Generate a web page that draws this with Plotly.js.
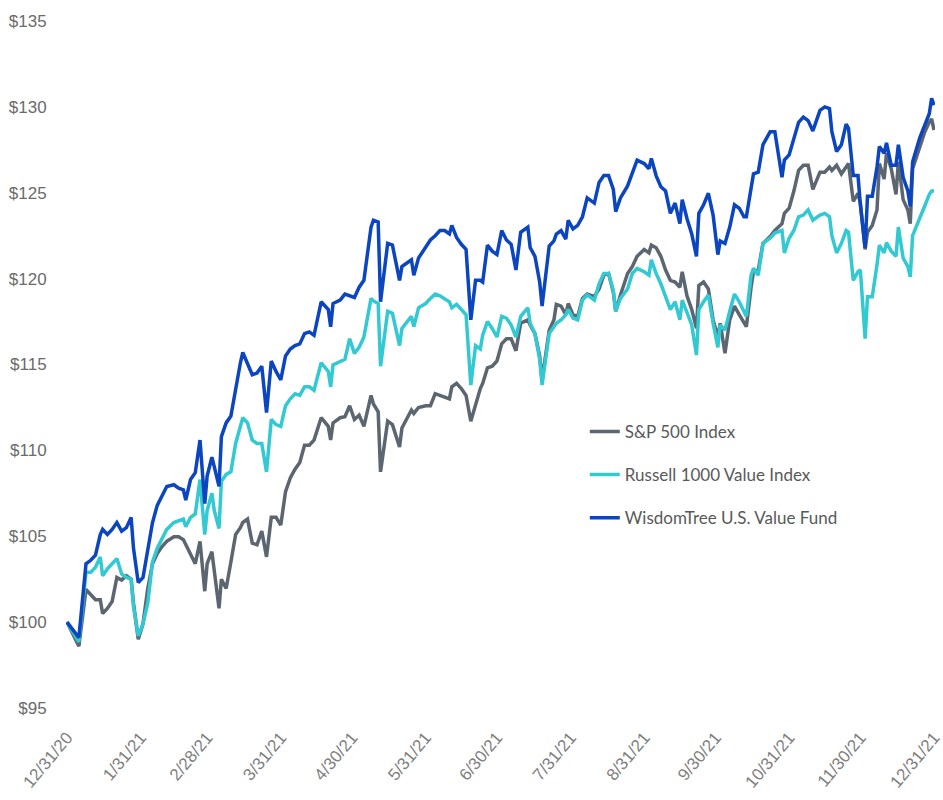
<!DOCTYPE html>
<html>
<head>
<meta charset="utf-8">
<script src="https://cdn.plot.ly/plotly-3.0.1.min.js"></script>
<style>html,body{margin:0;padding:0;background:#fff;}#chart{width:943px;height:800px;}</style>
</head>
<body>
<div id="chart"></div>
<script>
var seriesNames = ["S&P 500 Index", "Russell 1000 Value Index", "WisdomTree U.S. Value Fund"];
var seriesColors = ["#5c6670", "#33c9d3", "#0b45c0"];

var dates = ["2020-12-31","2021-01-05","2021-01-08","2021-01-10","2021-01-12","2021-01-14","2021-01-15","2021-01-17","2021-01-19","2021-01-21",
"2021-01-23","2021-01-25","2021-01-27","2021-01-28","2021-01-30","2021-02-01","2021-02-03","2021-02-05","2021-02-07","2021-02-09",
"2021-02-11","2021-02-14","2021-02-16","2021-02-18","2021-02-19","2021-02-21","2021-02-23","2021-02-25","2021-02-27","2021-02-28",
"2021-03-02","2021-03-03","2021-03-05","2021-03-06","2021-03-08","2021-03-10","2021-03-12","2021-03-14","2021-03-15","2021-03-17",
"2021-03-19","2021-03-21","2021-03-23","2021-03-25","2021-03-27","2021-03-29","2021-03-31","2021-04-02","2021-04-04","2021-04-06",
"2021-04-08","2021-04-10","2021-04-12","2021-04-14","2021-04-17","2021-04-20","2021-04-21","2021-04-22","2021-04-25","2021-04-27",
"2021-04-29","2021-05-01","2021-05-03","2021-05-05","2021-05-08","2021-05-09","2021-05-11","2021-05-12","2021-05-15","2021-05-17",
"2021-05-20","2021-05-21","2021-05-25","2021-05-26","2021-05-28","2021-05-31","2021-06-02","2021-06-04","2021-06-06","2021-06-08",
"2021-06-10","2021-06-11","2021-06-13","2021-06-15","2021-06-17","2021-06-19","2021-06-21","2021-06-23","2021-06-24","2021-06-26",
"2021-06-28","2021-06-30","2021-07-02","2021-07-04","2021-07-06","2021-07-08","2021-07-10","2021-07-13","2021-07-14","2021-07-16",
"2021-07-18","2021-07-19","2021-07-22","2021-07-24","2021-07-25","2021-07-27","2021-07-29","2021-07-30","2021-08-01","2021-08-03",
"2021-08-05","2021-08-07","2021-08-10","2021-08-12","2021-08-14","2021-08-16","2021-08-18","2021-08-19","2021-08-21","2021-08-24",
"2021-08-26","2021-08-28","2021-08-31","2021-09-02","2021-09-03","2021-09-05","2021-09-07","2021-09-09","2021-09-11","2021-09-13",
"2021-09-15","2021-09-16","2021-09-18","2021-09-20","2021-09-22","2021-09-23","2021-09-25","2021-09-27","2021-09-29","2021-10-01",
"2021-10-02","2021-10-04","2021-10-06","2021-10-08","2021-10-10","2021-10-12","2021-10-13","2021-10-15","2021-10-16","2021-10-18",
"2021-10-20","2021-10-23","2021-10-25","2021-10-28","2021-10-29","2021-10-31","2021-11-02","2021-11-04","2021-11-06","2021-11-08",
"2021-11-10","2021-11-13","2021-11-15","2021-11-17","2021-11-18","2021-11-20","2021-11-22","2021-11-24","2021-11-25","2021-11-27",
"2021-11-29","2021-11-30","2021-12-02","2021-12-03","2021-12-05","2021-12-07","2021-12-08","2021-12-10","2021-12-11","2021-12-13",
"2021-12-15","2021-12-16","2021-12-18","2021-12-20","2021-12-21","2021-12-22","2021-12-25","2021-12-27","2021-12-29","2021-12-30",
"2021-12-31"];

var sp500 = [100,98.6,101.9,101.6,101.3,101.3,100.5,100.8,101.2,102.6,
102.45,102.7,102.5,101.1,99.0,99.9,101.96,103.4,104.0,104.4,
104.7,104.97,104.97,104.8,104.5,103.9,103.4,104.7,101.8,103.4,
104.1,103.0,100.8,102.5,101.96,103.5,105.1,105.5,105.8,106.0,
104.6,104.5,105.3,103.8,106.1,106.1,105.65,107.6,108.4,108.9,
109.3,110.3,110.3,110.6,111.9,111.4,110.6,111.6,111.9,111.96,
112.6,111.8,112.05,111.4,113.2,112.7,112.25,108.75,111.7,111.5,
110.2,111.3,112.35,112.15,112.5,112.6,112.6,113.3,113.2,113.1,
113.0,113.7,113.9,113.6,113.2,111.7,112.7,113.6,113.9,114.8,
114.9,115.2,116.2,116.5,116.5,115.8,117.4,117.6,117.3,116.8,
115.5,114.1,117.0,117.6,118.5,118.4,117.9,118.55,117.9,117.8,
118.85,119.1,118.95,119.4,120.2,120.3,119.2,118.1,119.05,120.3,
120.7,121.3,121.7,121.5,121.95,121.8,121.3,120.5,119.9,119.8,
119.5,120.4,119.0,118.2,117.1,119.6,119.8,119.4,117.6,116.6,
117.4,115.65,117.6,118.4,117.9,117.4,117.2,119.5,120.4,120.5,
122.05,122.45,122.8,123.2,123.8,124.1,125.1,126.3,126.6,126.6,
125.2,126.2,126.2,126.5,126.3,126.6,126.1,126.5,126.7,124.5,
124.97,124.4,121.7,122.7,123.1,124.0,126.7,125.8,127.3,126.4,
124.9,126.8,124.6,124.0,123.2,126.4,127.7,128.5,129.1,129.3,
128.65];

var russellValue = [100,98.85,102.9,102.9,103.2,103.8,102.7,103.1,103.4,103.7,
102.8,102.6,102.5,100.9,99.2,99.9,101.1,103.5,104.3,104.9,
105.4,105.8,105.9,106.0,105.55,106.1,106.3,108.3,105.1,106.5,
107.5,106.5,105.45,108.2,108.6,108.75,110.4,111.4,111.9,111.6,
110.6,110.4,110.4,108.75,111.8,111.5,111.4,112.6,113.0,113.3,
113.2,113.7,113.7,113.5,115.1,114.6,113.7,114.97,115.2,115.3,
116.5,115.65,116.0,116.6,118.85,118.7,118.55,114.9,118.1,117.98,
116.1,117.1,117.8,117.2,118.3,118.55,118.85,119.1,119.0,118.8,
118.65,118.3,118.5,118.2,117.9,113.8,116.1,115.9,116.7,117.5,
117.1,116.6,117.8,117.7,117.3,116.6,117.8,118.3,117.4,116.8,
115.3,113.8,116.8,117.2,117.4,117.6,117.9,118.2,117.7,117.6,
118.75,119.05,118.75,119.7,120.3,120.3,119.3,118.1,118.85,119.4,
120.3,120.6,120.4,120.2,121.1,120.3,119.7,118.95,118.2,118.65,
117.6,118.75,117.98,117.3,115.55,118.2,118.65,119.05,117.4,116.0,
117.3,117.0,118.1,119.1,118.65,118.1,117.8,120.2,120.6,120.2,
122.05,122.35,122.65,122.8,121.5,122.35,122.8,123.6,123.7,124.0,
123.4,123.7,123.8,123.6,122.5,121.5,122.05,122.8,122.7,119.9,
120.4,120.5,116.5,118.95,118.95,120.8,121.95,121.5,122.1,121.6,
121.3,123.0,121.2,120.7,120.1,122.5,123.6,124.2,124.9,125.1,
125.1];

var wisdomTreeValue = [100,99.1,103.4,103.6,103.9,105.1,105.4,105.1,105.4,105.8,
105.3,105.5,106.1,104.3,102.3,102.6,104.2,105.8,106.8,107.4,
107.9,108.0,107.8,107.7,107.1,108.3,108.7,110.6,106.9,108.5,
109.6,109.05,107.9,110.8,111.6,112.0,113.6,115.1,115.7,115.0,
114.4,114.5,114.9,112.2,115.2,114.6,114.1,115.5,115.9,116.1,
116.2,116.8,116.9,116.7,118.65,118.2,117.2,118.55,118.75,119.1,
119.0,118.9,119.5,119.9,123.0,123.4,123.3,118.65,122.05,121.95,
119.9,120.7,121.1,120.2,121.2,121.8,122.25,122.5,122.8,122.8,
122.6,123.1,122.4,122.0,121.7,117.6,119.9,119.9,119.8,121.95,
121.6,121.4,122.8,122.25,122.0,120.5,122.7,123.0,121.8,121.3,
119.8,118.4,121.9,122.2,122.6,122.8,122.3,123.4,122.9,123.1,
123.6,124.7,124.4,125.6,126.0,126.0,125.2,123.9,124.7,125.4,
126.2,126.9,126.7,126.4,127.0,126.0,125.35,125.1,123.8,124.4,
123.2,124.6,123.5,122.6,121.3,123.8,124.3,124.97,123.7,121.4,
122.2,122.05,123.0,124.3,124.1,123.6,123.6,125.5,126.1,126.2,
127.8,128.55,128.55,125.9,126.9,127.2,128.2,129.1,129.4,129.2,
128.6,129.8,130.0,129.9,128.55,127.4,127.8,129.0,128.75,126.0,
126.0,124.3,121.8,124.8,124.8,126.5,127.7,127.3,127.9,126.6,
126.6,127.8,125.9,125.1,124.2,126.8,128.2,128.85,129.6,130.5,
130.1];

var tickDates = ["2020-12-31","2021-01-31","2021-02-28","2021-03-31","2021-04-30","2021-05-31","2021-06-30","2021-07-31","2021-08-31","2021-09-30","2021-10-31","2021-11-30","2021-12-31"];
var tickLabels = ["12/31/20","1/31/21","2/28/21","3/31/21","4/30/21","5/31/21","6/30/21","7/31/21","8/31/21","9/30/21","10/31/21","11/30/21","12/31/21"];
var yTickVals = [95,100,105,110,115,120,125,130,135];
var yTickLabels = ["$95","$100","$105","$110","$115","$120","$125","$130","$135"];

var allValues = [sp500, russellValue, wisdomTreeValue];
var traces = allValues.map(function(vals, i){
  return {
    type: "scatter", mode: "lines",
    x: dates, y: vals,
    name: seriesNames[i],
    legendgroup: "g" + i,
    line: {color: seriesColors[i], width: 3.5},
    hoverinfo: "skip"
  };
});

var layout = {
  width: 943, height: 800,
  margin: {l: 66, r: 8, t: 21, b: 92},
  paper_bgcolor: "#ffffff", plot_bgcolor: "#ffffff",
  showlegend: true,
  legend: {
    x: 0.597, y: 0.428, xanchor: "left", yanchor: "top",
    bgcolor: "rgba(0,0,0,0)",
    font: {family: "Lato, 'Open Sans', sans-serif", size: 17, color: "#595959"},
    traceorder: "grouped", tracegroupgap: 18, itemwidth: 30
  },
  xaxis: {
    type: "date",
    range: ["2020-12-30 14:00", "2021-12-31 10:00"],
    tickmode: "array", tickvals: tickDates, ticktext: tickLabels,
    tickangle: -50,
    ticklabeloverflow: "allow",
    showgrid: false, zeroline: false, showline: false,
    ticks: "outside", ticklen: 12, tickcolor: "rgba(0,0,0,0)",
    tickfont: {family: "'Liberation Sans', Arial, sans-serif", size: 17, color: "#7f7f7f"}
  },
  yaxis: {
    range: [95, 135],
    tickmode: "array", tickvals: yTickVals, ticktext: yTickLabels,
    showgrid: false, zeroline: false, showline: false,
    ticks: "outside", ticklen: 15, tickcolor: "rgba(0,0,0,0)",
    tickfont: {family: "'Liberation Sans', Arial, sans-serif", size: 17, color: "#6b6b6b"}
  }
};

Plotly.newPlot("chart", traces, layout, {displayModeBar: false, staticPlot: true});
</script>
</body>
</html>
